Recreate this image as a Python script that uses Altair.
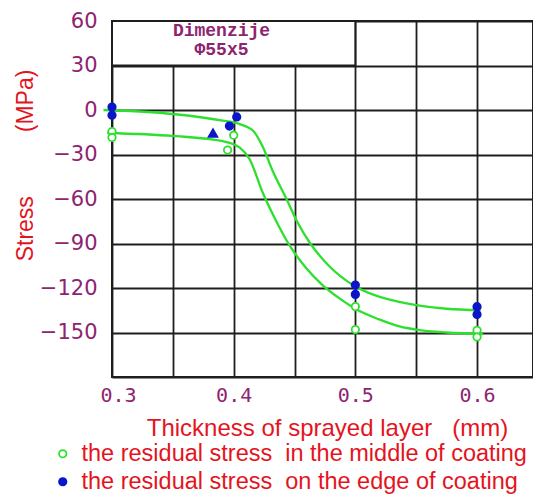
import json
import altair as alt
import pandas as pd

# ---- data ----
x_ticks = [0.3, 0.35, 0.4, 0.45, 0.5, 0.55, 0.6, 0.65]
x_tick_labels = ["0.3", "", "0.4", "", "0.5", "", "0.6", ""]
y_ticks = [-180, -150, -120, -90, -60, -30, 0, 30, 60]
y_tick_labels = ["", "\u2212150", "\u2212120", "\u221290", "\u221260", "\u221230", "0", "30", "60"]

series_names = [
    "the residual stress\u00a0 in the middle of coating",
    "the residual stress\u00a0 on the edge of coating",
]

middle_x = [0.3, 0.3, 0.4, 0.395, 0.5, 0.5, 0.6, 0.6]
middle_y = [-14.5, -18.5, -17, -27, -132.5, -148, -148.5, -153]
edge_x = [0.3, 0.3, 0.4025, 0.3965, 0.5, 0.5, 0.6, 0.6]
edge_y = [2, -3.5, -4.7, -10.8, -118, -124.3, -132.6, -137.8]
triangle_x = [0.383]
triangle_y = [-15.3]

upper_curve_x = [0.293, 0.35, 0.391, 0.405, 0.416, 0.424, 0.432, 0.444, 0.452, 0.463,
                 0.477, 0.5, 0.52, 0.537, 0.55, 0.575, 0.603]
upper_curve_y = [0, -2.7, -7.2, -9.5, -14, -25, -41, -61, -75, -90,
                 -104, -119, -126, -129.5, -131.5, -134, -135]
lower_curve_x = [0.296, 0.35, 0.391, 0.405, 0.413, 0.424, 0.435, 0.445, 0.459, 0.473,
                 0.487, 0.5, 0.519, 0.537, 0.55, 0.575, 0.605]
lower_curve_y = [-15.5, -17.5, -21, -25.4, -33, -56, -75, -90, -106, -118,
                 -127, -134, -141, -146, -148, -150, -151]

box_lines = ["Dimenzije", "\u03a655x5"]
box_x = [0.3, 0.5]
box_y = [30, 60]
box_text_x = [0.39, 0.39]
box_text_y = [53, 40.5]

# ---- styling constants ----
PURPLE = "#8E246F"
RED = "#E4141E"
GREEN = "#2EE02E"
BLUE = "#0A16C8"
GRID = "#1e1e1e"

points = pd.DataFrame(
    {"x": middle_x + edge_x,
     "y": middle_y + edge_y,
     "series": [series_names[0]] * len(middle_x) + [series_names[1]] * len(edge_x)}
)
curves = pd.DataFrame(
    {"x": upper_curve_x + lower_curve_x,
     "y": upper_curve_y + lower_curve_y,
     "curve": ["upper"] * len(upper_curve_x) + ["lower"] * len(lower_curve_x)}
)
tri = pd.DataFrame({"x": triangle_x, "y": triangle_y})
box = pd.DataFrame({"x": [box_x[0]], "x2": [box_x[1]], "y": [box_y[0]], "y2": [box_y[1]]})
box_text = pd.DataFrame({"x": box_text_x, "y": box_text_y, "t": box_lines})

x_label_expr = f"{json.dumps(x_tick_labels)}[indexof({json.dumps(x_ticks)}, datum.value)]"
y_label_expr = f"{json.dumps(y_tick_labels, ensure_ascii=False)}[indexof({json.dumps(y_ticks)}, datum.value)]"

x_title = "Thickness of sprayed layer\u00a0\u00a0\u00a0(mm)"
y_title = "Stress" + "\u00a0" * 10 + "(MPa)"

x_scale = alt.Scale(domain=[0.3, 0.646], nice=False, zero=False)
y_scale = alt.Scale(domain=[-180, 60], nice=False, zero=False)

x_axis = alt.Axis(
    values=x_ticks, labelExpr=x_label_expr, grid=True, ticks=False, domain=False,
    gridColor=GRID, gridWidth=1.8, gridOpacity=1,
    labelFont="DejaVu Sans Mono", labelFontSize=20, labelColor=PURPLE, labelPadding=8,
    labelFlush=True, labelFlushOffset=12,
    title=x_title, titleFont="Liberation Sans", titleFontSize=24, titleFontWeight="normal",
    titleColor=RED, titleX=215, titleY=58, titleBaseline="alphabetic", titleAlign="center",
    labelOverlap=False,
)
y_axis = alt.Axis(
    values=y_ticks, labelExpr=y_label_expr, grid=True, ticks=False, domain=False,
    gridColor=GRID, gridWidth=1.8, gridOpacity=1,
    labelFont="DejaVu Sans", labelFontSize=21, labelColor=PURPLE, labelPadding=15,
    title=y_title, titleFont="Liberation Sans", titleFontSize=23, titleFontWeight="normal",
    titleColor=RED, titleX=-80, titleY=144, titleBaseline="alphabetic", titleAlign="center",
    titleAngle=270, labelOverlap=False,
)

rect_layer = alt.Chart(box).mark_rect(fill="white", stroke=GRID, strokeWidth=2).encode(
    x=alt.X("x:Q", scale=x_scale, axis=x_axis), x2="x2:Q",
    y=alt.Y("y:Q", scale=y_scale, axis=y_axis), y2="y2:Q",
)

box_text_layer = alt.Chart(box_text).mark_text(
    font="Liberation Mono", fontSize=18, fontWeight="bold", color=PURPLE,
    align="center", baseline="middle",
).encode(x="x:Q", y="y:Q", text="t:N")

curve_layer = alt.Chart(curves).mark_line(
    color=GREEN, strokeWidth=2.3, interpolate="monotone"
).encode(x="x:Q", y="y:Q", detail="curve:N")

legend = alt.Legend(
    title=None, orient="none", legendX=-61, legendY=421, padding=0,
    labelFont="Liberation Sans", labelFontSize=23.5, labelColor=RED, labelLimit=600,
    labelOffset=7, rowPadding=3, symbolSize=55, symbolStrokeWidth=1.8,
    symbolType="circle",
)

point_layer = alt.Chart(points).mark_point(filled=False, size=55, strokeWidth=1.8, opacity=1).encode(
    x="x:Q", y="y:Q",
    color=alt.Color("series:N", scale=alt.Scale(domain=series_names, range=[GREEN, BLUE]), legend=legend),
    fill=alt.Fill("series:N", scale=alt.Scale(domain=series_names, range=["white", BLUE]), legend=legend),
)

tri_layer = alt.Chart(tri).mark_point(
    shape="triangle-up", filled=True, size=140, color=BLUE, opacity=1
).encode(x="x:Q", y="y:Q")

chart = alt.layer(
    rect_layer, box_text_layer, curve_layer, point_layer, tri_layer
).properties(
    width=421, height=356,
    background="white",
    autosize=alt.AutoSizeParams(type="none"),
    padding={"left": 104, "top": 13, "right": 0, "bottom": 117},
).configure_view(
    stroke=GRID, strokeWidth=2
)

chart.save("out.html", embed_options={"renderer": "svg", "actions": False})
